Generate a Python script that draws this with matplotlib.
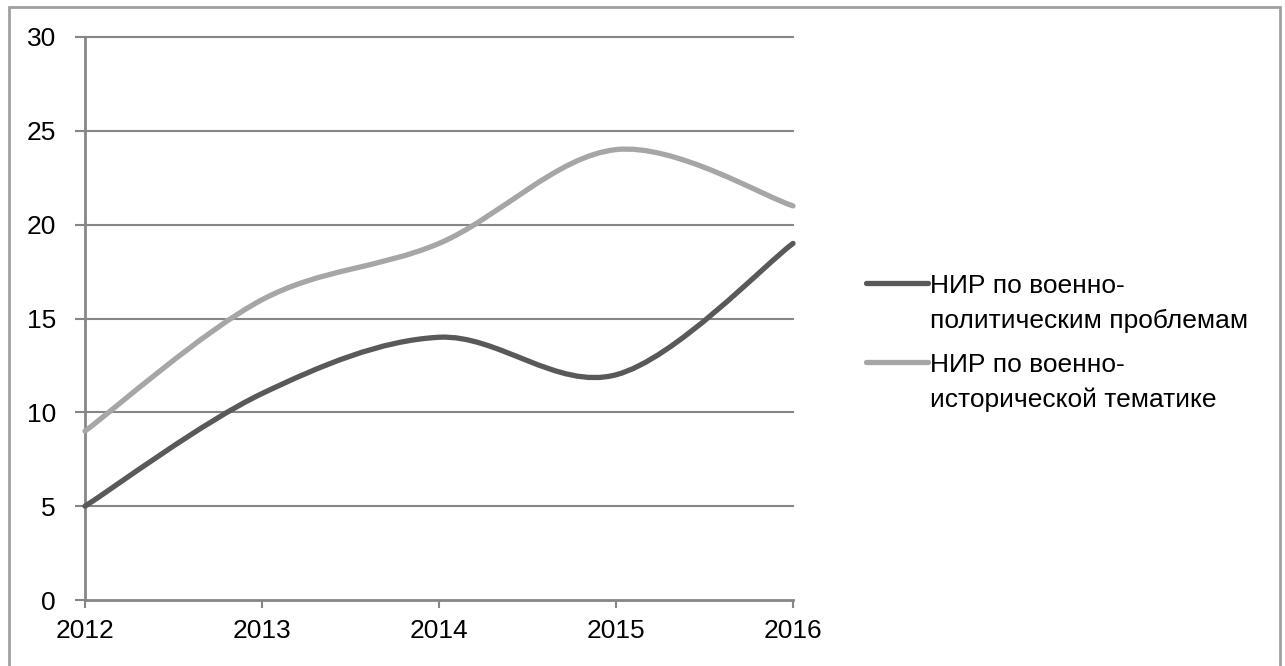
import matplotlib.pyplot as plt
from matplotlib.path import Path
from matplotlib.patches import PathPatch, Rectangle
from matplotlib.lines import Line2D

plt.rcParams['font.family'] = ['Liberation Sans', 'DejaVu Sans']

# Data
years = [2012, 2013, 2014, 2015, 2016]
political = [5, 11, 14, 12, 19]
historical = [9, 16, 19, 24, 21]
labels = [['НИР по военно-', 'политическим проблемам'],
          ['НИР по военно-', 'исторической тематике']]
colors = ['#595959', '#a6a6a6']
grid_color = '#868686'


def smooth_path(xs, ys):
    # Excel-like smoothed line: cubic Bezier through each point
    pts = list(zip(xs, ys))
    n = len(pts)
    verts = [pts[0]]
    codes = [Path.MOVETO]
    for i in range(n - 1):
        p0 = pts[i - 1] if i > 0 else pts[i]
        p1 = pts[i]
        p2 = pts[i + 1]
        p3 = pts[i + 2] if i + 2 < n else pts[i + 1]
        c1 = (p1[0] + (p2[0] - p0[0]) / 6, p1[1] + (p2[1] - p0[1]) / 6)
        c2 = (p2[0] - (p3[0] - p1[0]) / 6, p2[1] - (p3[1] - p1[1]) / 6)
        verts += [c1, c2, p2]
        codes += [Path.CURVE4] * 3
    return Path(verts, codes)


fig = plt.figure(figsize=(12.85, 6.66), dpi=100)
ax = fig.add_axes([85 / 1285, 1 - 600 / 666, (793 - 85) / 1285, (600 - 37) / 666])

ax.set_xlim(2012, 2016)
ax.set_ylim(0, 30)
ax.set_yticks(range(0, 31, 5))
ax.set_xticks(years)
ax.set_xticklabels([str(y) for y in years])

for y in range(5, 31, 5):
    ax.axhline(y, color=grid_color, lw=1.5, zorder=1, clip_on=False)

for s in ['top', 'right']:
    ax.spines[s].set_visible(False)
for s in ['left', 'bottom']:
    ax.spines[s].set_color(grid_color)
    ax.spines[s].set_linewidth(2)

ax.tick_params(axis='y', length=7, width=1.5, color=grid_color, labelsize=19, pad=14)
ax.tick_params(axis='x', length=6, width=1.5, color=grid_color, labelsize=19, pad=8)

for vals, c in zip([political, historical], colors):
    patch = PathPatch(smooth_path(years, vals), fill=False, edgecolor=c,
                      lw=3.8, capstyle='round', joinstyle='round', zorder=3)
    ax.add_patch(patch)
    patch.set_clip_on(False)

# legend drawn by hand so the handle sits on the first text line
for i, (lines, c) in enumerate(zip(labels, colors)):
    yc = 283 + i * 79
    fig.add_artist(Line2D([866 / 1285, 928 / 1285], [1 - yc / 666, 1 - yc / 666],
                          transform=fig.transFigure, color=c, lw=3.8,
                          solid_capstyle='round'))
    for j, line in enumerate(lines):
        base = yc + j * 35 + 9.5
        fig.text(930 / 1285, 1 - base / 666, line, fontsize=19,
                 va='baseline', ha='left')

# outer frame
fig.add_artist(Rectangle((9 / 1285, -0.05), (1280 - 9) / 1285, 1.05 - 7 / 666,
                         transform=fig.transFigure, fill=False,
                         edgecolor='#a0a0a0', lw=2))

fig.savefig('out.png', dpi=100)
